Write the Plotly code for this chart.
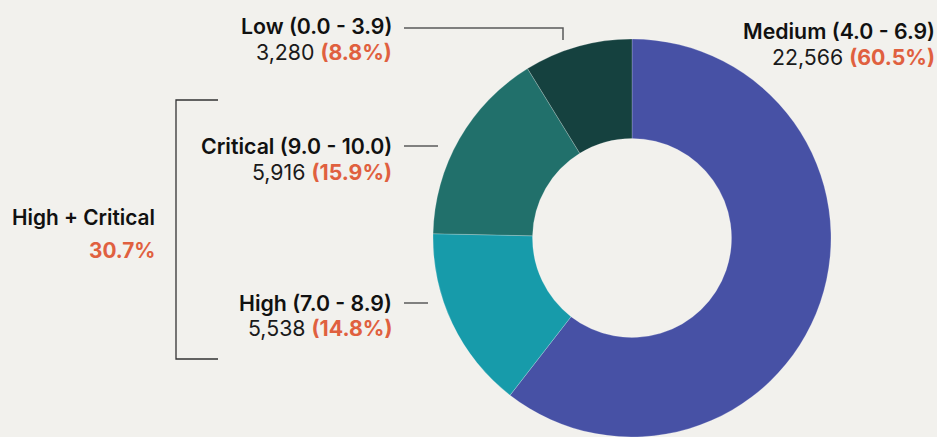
import plotly.graph_objects as go

# ---- data ----
categories = ["Medium", "High", "Critical", "Low"]
ranges = ["(4.0 - 6.9)", "(7.0 - 8.9)", "(9.0 - 10.0)", "(0.0 - 3.9)"]
counts = [22566, 5538, 5916, 3280]
percents = [60.5, 14.8, 15.9, 8.8]
group_label = "High + Critical"
group_percent = 30.7
colors = ["#4751A5", "#179BAA", "#21706B", "#15413F"]

W, H = 937, 437
BG = "#F2F1ED"
ORANGE = "#E0603F"

def px(x):
    return x / W

def py(y):
    return 1 - y / H

cx, cy, r = 632, 238, 199

fig = go.Figure(go.Pie(
    labels=categories,
    values=counts,
    marker=dict(colors=colors, line=dict(color="rgba(255,255,255,0.35)", width=0.6)),
    hole=0.5,
    sort=False,
    direction="clockwise",
    rotation=0,
    textinfo="none",
    hoverinfo="label+value+percent",
    domain=dict(x=[px(cx - r), px(cx + r)], y=[py(cy + r), py(cy - r)]),
    showlegend=False,
))

FONT = "Inter"
FS = 21.3
annotations = []
# label positions: (right x, y line1, y line2)
label_pos = {
    "Medium": (937, 31, 57),
    "High": (394, 303, 328),
    "Critical": (394, 146, 172),
    "Low": (394, 26, 52),
}
for cat, rng, cnt, pct in zip(categories, ranges, counts, percents):
    xr, y1, y2 = label_pos[cat]
    annotations.append(dict(
        x=px(xr), y=py(y1), xref="paper", yref="paper", xanchor="right", yanchor="middle",
        text=f"{cat} {rng}", showarrow=False, align="right",
        font=dict(family=FONT, size=FS, color="#111111", weight=600),
    ))
    annotations.append(dict(
        x=px(xr), y=py(y2), xref="paper", yref="paper", xanchor="right", yanchor="middle",
        text=f"{cnt:,} <span style='color:{ORANGE};font-weight:bold'>({pct}%)</span>",
        showarrow=False, align="right",
        font=dict(family=FONT, size=FS, color="#1a1a1a"),
    ))

annotations.append(dict(
    x=px(157), y=py(218), xref="paper", yref="paper", xanchor="right", yanchor="middle",
    text=group_label, showarrow=False, align="right",
    font=dict(family=FONT, size=FS - 0.5, color="#111111", weight=600),
))
annotations.append(dict(
    x=px(157), y=py(250), xref="paper", yref="paper", xanchor="right", yanchor="middle",
    text=f"{group_percent}%", showarrow=False, align="right",
    font=dict(family=FONT, size=FS - 0.5, color=ORANGE, weight=700),
))

LINE = dict(color="#5a5a5a", width=1.5)
shapes = [
    # Low leader
    dict(type="path", xref="paper", yref="paper",
         path=f"M {px(404)},{py(28)} L {px(563)},{py(28)} L {px(563)},{py(40)}", line=LINE),
    # Critical leader
    dict(type="line", xref="paper", yref="paper", x0=px(404), x1=px(438), y0=py(146), y1=py(146), line=LINE),
    # High leader
    dict(type="line", xref="paper", yref="paper", x0=px(404), x1=px(428), y0=py(303), y1=py(303), line=LINE),
    # bracket
    dict(type="path", xref="paper", yref="paper",
         path=f"M {px(218)},{py(100)} L {px(176)},{py(100)} L {px(176)},{py(359)} L {px(218)},{py(359)}",
         line=dict(color="#333333", width=1.3)),
]

fig.update_layout(
    width=W, height=H,
    margin=dict(l=0, r=0, t=0, b=0),
    paper_bgcolor=BG, plot_bgcolor=BG,
    annotations=annotations, shapes=shapes,
    font=dict(family=FONT),
)

fig.write_html(
    "out.html",
    config={"displayModeBar": False},
    post_script="document.body.style.margin='0';document.body.style.overflow='hidden';document.body.style.background='" + BG + "';",
)
